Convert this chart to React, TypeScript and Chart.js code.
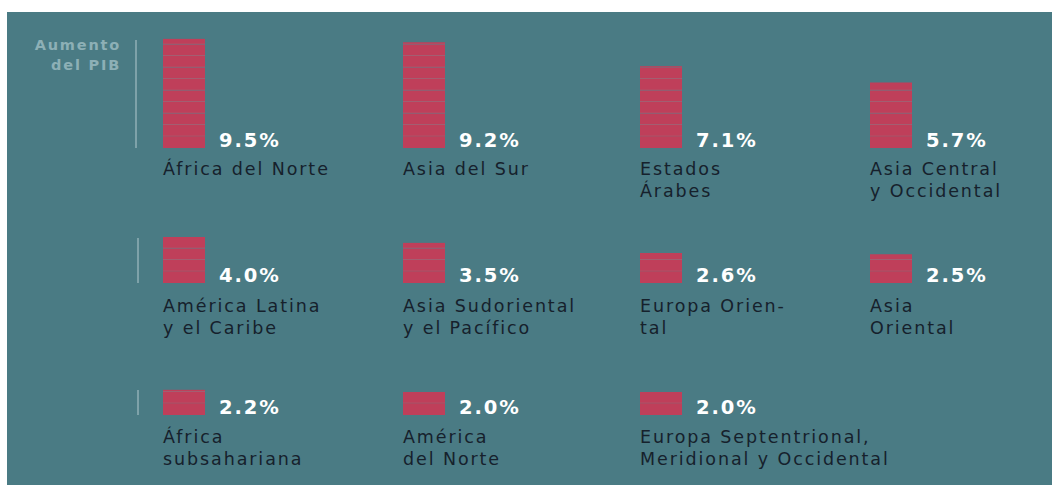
import React, { useEffect, useRef } from "react";
import { Chart, registerables } from "chart.js";

Chart.register(...registerables);

// ---------- data ----------
const REGIONS = [
  "África del Norte",
  "Asia del Sur",
  "Estados\nÁrabes",
  "Asia Central\ny Occidental",
  "América Latina\ny el Caribe",
  "Asia Sudoriental\ny el Pacífico",
  "Europa Orien-\ntal",
  "Asia\nOriental",
  "África\nsubsahariana",
  "América\ndel Norte",
  "Europa Septentrional,\nMeridional y Occidental",
];
const GDP_GROWTH = [9.5, 9.2, 7.1, 5.7, 4.0, 3.5, 2.6, 2.5, 2.2, 2.0, 2.0];
const VALUE_LABELS = ["9.5%", "9.2%", "7.1%", "5.7%", "4.0%", "3.5%", "2.6%", "2.5%", "2.2%", "2.0%", "2.0%"];
const AXIS_TITLE = ["Aumento", "del PIB"];
const Y_MAX = 10;

// ---------- layout / style ----------
const PANEL = "#4a7b84";
const BAR = "#bf3f5a";
const STRIPE = "#9a6a7a";
const TEXT_DARK = "#16212c";
const COL_X = [163, 403, 640, 870];
const ROW_BASE = [148, 283, 415];
const ROW_LABEL_BASE = [175, 312, 443];
const ROW_TOP = [40, 238, 390];
const BAR_W = 42;
const CHART_H = 115;

function BarCell({ value, x, base }: { value: number; x: number; base: number }) {
  const ref = useRef<HTMLCanvasElement | null>(null);
  useEffect(() => {
    if (!ref.current) return;
    const n = Math.ceil(value);
    const datasets = Array.from({ length: n }, (_, k) => ({
      data: [Math.min(1, value - k)],
      backgroundColor: BAR,
      borderColor: STRIPE,
      borderWidth: k === 0 ? 0 : { top: 0, left: 0, right: 0, bottom: 1.2 },
      borderSkipped: false as const,
      barPercentage: 1,
      categoryPercentage: 1,
    }));
    const chart = new Chart(ref.current, {
      type: "bar",
      data: { labels: [""], datasets },
      options: {
        responsive: false,
        animation: false,
        layout: { padding: 0 },
        plugins: { legend: { display: false }, tooltip: { enabled: false } },
        scales: {
          x: { stacked: true, display: false },
          y: { stacked: true, display: false, min: 0, max: Y_MAX },
        },
      },
    });
    return () => chart.destroy();
  }, [value]);
  return (
    <canvas
      ref={ref}
      width={BAR_W}
      height={CHART_H}
      style={{ position: "absolute", left: x, top: base - CHART_H, width: BAR_W, height: CHART_H, display: "block" }}
    />
  );
}

export default function App() {
  return (
    <div style={{ position: "absolute", left: 0, top: 0, width: 1052, height: 485, background: "#ffffff", overflow: "hidden" }}>
      <div style={{ position: "absolute", left: 7, top: 12, right: 0, bottom: 0, background: PANEL }} />
      {/* axis title */}
      <div
        style={{
          position: "absolute",
          left: 0,
          top: 35,
          width: 121,
          textAlign: "right",
          fontFamily: "'DejaVu Sans', sans-serif",
          fontWeight: 700,
          fontSize: 14.5,
          lineHeight: "20px",
          letterSpacing: 1.8,
          color: "#8db0b6",
        }}
      >
        {AXIS_TITLE.map((t, i) => (
          <div key={i}>{t}</div>
        ))}
      </div>
      {/* row separators */}
      {ROW_BASE.map((b, r) => (
        <div
          key={"sep" + r}
          style={{
            position: "absolute",
            left: r === 0 ? 135 : 137,
            top: ROW_TOP[r],
            width: 1.5,
            height: b - ROW_TOP[r],
            background: "rgba(190,210,214,0.45)",
          }}
        />
      ))}
      {GDP_GROWTH.map((v, i) => {
        const row = Math.floor(i / 4);
        const col = i % 4;
        const x = COL_X[col];
        const base = ROW_BASE[row];
        return (
          <React.Fragment key={i}>
            <BarCell value={v} x={x} base={base} />
            <div
              style={{
                position: "absolute",
                left: x + 56,
                top: base - 17,
                fontFamily: "'DejaVu Sans', sans-serif",
                fontWeight: 700,
                fontSize: 19.5,
                lineHeight: "20px",
                letterSpacing: 1.9,
                color: "#ffffff",
                whiteSpace: "nowrap",
              }}
            >
              {VALUE_LABELS[i]}
            </div>
            <div
              style={{
                position: "absolute",
                left: x,
                top: ROW_LABEL_BASE[row] - 17.5,
                fontFamily: "'DejaVu Sans', sans-serif",
                fontWeight: 400,
                fontSize: 17.5,
                lineHeight: "22px",
                letterSpacing: 1.9,
                color: TEXT_DARK,
                whiteSpace: "pre",
              }}
            >
              {REGIONS[i]}
            </div>
          </React.Fragment>
        );
      })}
    </div>
  );
}
